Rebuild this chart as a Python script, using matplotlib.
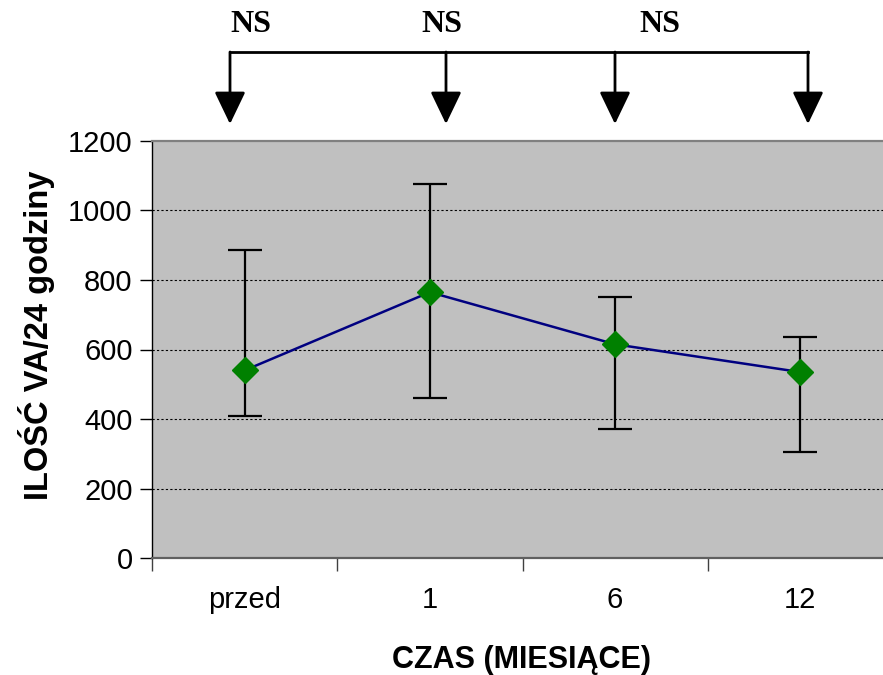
import matplotlib
matplotlib.use('Agg')
import matplotlib.pyplot as plt
from matplotlib.lines import Line2D
import numpy as np

# dane: średnia i zakres (dolny/górny) dla każdego punktu czasowego
czas = ['przed', '1', '6', '12']
srednia = [540, 765, 615, 535]
gorna = [885, 1075, 750, 635]
dolna = [410, 460, 370, 305]
ns_etykiety = ['NS', 'NS', 'NS']

x = np.arange(len(czas))
y = np.array(srednia)
err = [y - np.array(dolna), np.array(gorna) - y]

fig = plt.figure(figsize=(8.83, 6.75), dpi=100)
W, H = 883, 675
ax = fig.add_axes([152/W, (H-558)/H, (893-152)/W, (558-141)/H])
ax.set_facecolor('#c0c0c0')

ax.errorbar(x, y, yerr=err, fmt='none', ecolor='black', elinewidth=1.6,
            capsize=12, capthick=1.6, zorder=3)
ax.plot(x, y, color='#000080', lw=1.8, zorder=4)
ax.plot(x, y, ls='none', marker='D', ms=13, color='#008000', zorder=5)

ax.set_xlim(-0.5, 3.5)
ax.set_ylim(0, 1200)
ax.set_yticks(np.arange(0, 1201, 200))
for v in range(200, 1001, 200):
    ax.axhline(v, color='black', lw=0.8, ls=(0, (2, 2)), zorder=1)

# podziałka osi X między kategoriami, etykiety na środkach
ax.set_xticks(np.arange(-0.5, 3.6, 1.0))
ax.set_xticklabels([])
ax.set_xticks(x, minor=True)
ax.set_xticklabels(czas, minor=True)
ax.tick_params(axis='x', which='major', length=9, width=1, color='#404040', direction='out')
ax.tick_params(axis='x', which='minor', length=0, pad=20, labelsize=21)
ax.tick_params(axis='y', length=9, width=1, direction='out', labelsize=21, pad=5)

for lab in ax.get_xticklabels(minor=True) + ax.get_yticklabels():
    lab.set_family('Liberation Sans')

ax.spines['left'].set_color('black')
ax.spines['left'].set_linewidth(1)
ax.spines['bottom'].set_color('#606060')
ax.spines['bottom'].set_linewidth(1.6)
ax.spines['top'].set_color('#808080')
ax.spines['top'].set_linewidth(1.6)
ax.spines['right'].set_visible(False)

ax.set_ylabel('ILOŚĆ VA/24 godziny', fontsize=23.5, fontweight='bold',
              family='Liberation Sans', va='center')
ax.yaxis.set_label_coords((37-152)/741, (558-335)/417)
fig.text(521/W, (H-660)/H, 'CZAS (MIESIĄCE)', fontsize=22, fontweight='bold',
         family='Liberation Sans', ha='center', va='center')

# strzałki porównań nad wykresem
strz_x = [230, 446, 615, 808]
y_linii = H - 52
y_grotu = H - 124
fig.add_artist(Line2D([strz_x[0]/W, strz_x[-1]/W], [y_linii/H, y_linii/H],
                      color='black', lw=2))
for sx in strz_x:
    ax.annotate('', xy=(sx, y_grotu), xytext=(sx, y_linii), xycoords='figure pixels',
                textcoords='figure pixels',
                arrowprops=dict(arrowstyle='-|>,head_length=1.0,head_width=0.48',
                                mutation_scale=20, lw=2, color='black',
                                shrinkA=0, shrinkB=0), annotation_clip=False)

ns_x = [251, 442, 660]
for nx, t in zip(ns_x, ns_etykiety):
    fig.text(nx/W, (H-24)/H, t, fontsize=23, fontweight='bold',
             family='Liberation Serif', ha='center', va='center')

fig.savefig('out.png', dpi=100)
